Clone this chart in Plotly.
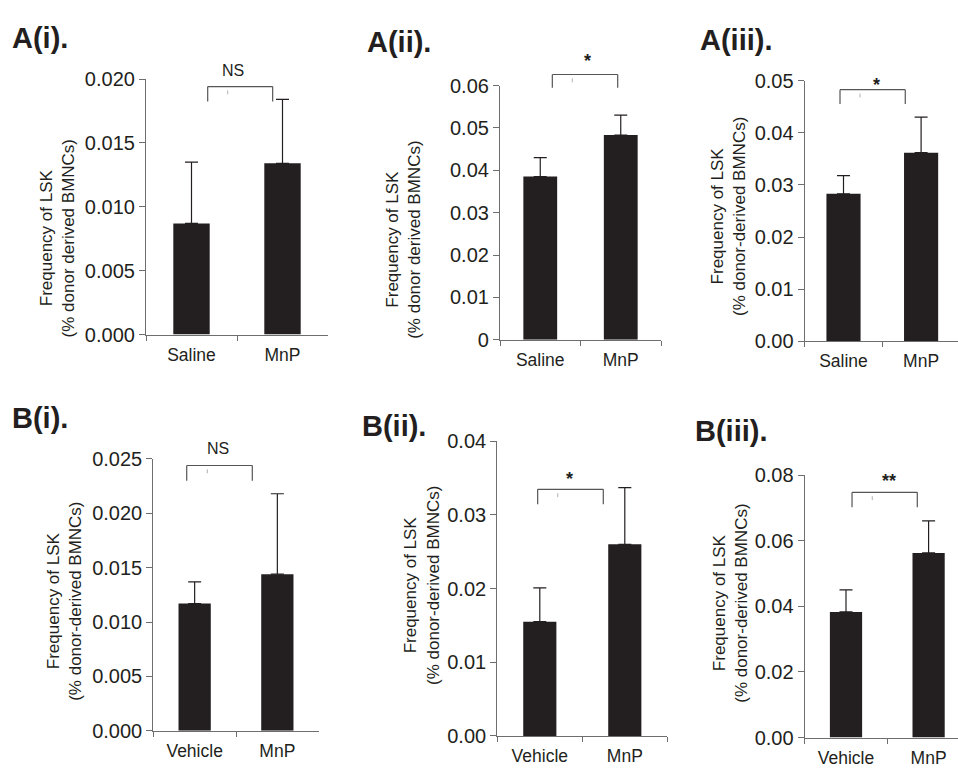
import plotly.graph_objects as go

W, H = 958, 778

# ---------------- data ----------------
groups_A = ["Saline", "MnP"]
groups_B = ["Vehicle", "MnP"]

a1_mean = [0.0087, 0.0134]
a1_err = [0.0048, 0.0050]
a2_mean = [0.0385, 0.0483]
a2_err = [0.0045, 0.0047]
a3_mean = [0.0283, 0.0362]
a3_err = [0.0035, 0.0068]
b1_mean = [0.0117, 0.0144]
b1_err = [0.0020, 0.0074]
b2_mean = [0.0155, 0.0260]
b2_err = [0.0046, 0.0077]
b3_mean = [0.0383, 0.0563]
b3_err = [0.0067, 0.0098]

panel_titles = ["A(i).", "A(ii).", "A(iii).", "B(i).", "B(ii).", "B(iii)."]
sig_labels = ["NS", "*", "*", "NS", "*", "**"]
y_max = [0.020, 0.06, 0.05, 0.025, 0.04, 0.08]
y_dtick = [0.005, 0.01, 0.01, 0.005, 0.01, 0.02]
y_format = [".3f", "", ".2f", ".3f", ".2f", ".2f"]
y_titles = [
    "Frequency of LSK<br>(% donor derived BMNCs)",
    "Frequency of LSK<br>(% donor derived BMNCs)",
    "Frequency of LSK<br>(% donor-derived BMNCs)",
    "Frequency of LSK<br>(% donor-derived BMNCs)",
    "Frequency of LSK<br>(% donor-derived BMNCs)",
    "Frequency of LSK<br>(% donor-derived BMNCs)",
]
# significance bracket: x ends (category units), top y, leg bottom y (data units)
br_x0 = [0.178, 0.150, -0.045, -0.096, -0.025, 0.073]
br_x1 = [0.892, 0.962, 0.796, 0.697, 0.747, 0.863]
br_top = [0.01941, 0.0626, 0.04827, 0.0244, 0.03346, 0.07479]
br_leg = [0.01825, 0.0595, 0.04553, 0.0230, 0.03143, 0.07022]
sig_x = [0.456, 0.589, 0.419, 0.279, 0.355, 0.524]
sig_y = [0.02068, 0.0657, 0.0492, 0.02598, 0.03488, 0.0783]
stub_x = [0.398, 0.398, 0.213, 0.153, 0.211, 0.318]

panels = [
    (groups_A, a1_mean, a1_err),
    (groups_A, a2_mean, a2_err),
    (groups_A, a3_mean, a3_err),
    (groups_B, b1_mean, b1_err),
    (groups_B, b2_mean, b2_err),
    (groups_B, b3_mean, b3_err),
]

# ---------------- layout geometry (pixels) ----------------
geom = [
    dict(xl=146.0, xr=328.0, cw=91.0, yt=70.0, yb=333.0, bw=0.40),
    dict(xl=500.0, xr=661.0, cw=80.5, yt=76.7, yb=338.3, bw=0.42),
    dict(xl=804.7, xr=958.0, cw=77.6, yt=71.7, yb=340.0, bw=0.44),
    dict(xl=153.3, xr=318.7, cw=82.7, yt=461.0, yb=740.7, bw=0.39),
    dict(xl=497.3, xr=667.3, cw=85.0, yt=442.7, yb=746.0, bw=0.39),
    dict(xl=804.7, xr=958.0, cw=82.6, yt=477.7, yb=747.7, bw=0.39),
]
ytitle_pos = [(57, 234), (403.5, 236), (728, 212), (65, 608), (421.7, 591), (731, 610)]
title_pos = [(10, 28), (365, 32), (698, 30), (10, 419), (360, 427), (693, 432)]

BAR = "#231f20"
AX = "#6e6e6e"
TXT = "#231f20"
FONT = "Liberation Sans, Arial, sans-serif"


def px_x(p):
    return p / W


def px_y(p):
    return 1 - p / H


def cat_to_paper(g, c):
    return px_x(g["xl"] + (c + 0.5) * g["cw"])


def val_to_paper(g, i, v):
    return px_y(g["yb"] - v / y_max[i] * (g["yb"] - g["yt"]))


fig = go.Figure()
layout = dict(
    width=W, height=H, margin=dict(l=0, r=0, t=0, b=0, pad=0),
    paper_bgcolor="white", plot_bgcolor="white", showlegend=False,
    font=dict(family=FONT, color=TXT),
)
shapes = []
annotations = []

for i, ((cats, mean, err), g) in enumerate(zip(panels, geom)):
    n = i + 1
    xa = "x" if n == 1 else f"x{n}"
    ya = "y" if n == 1 else f"y{n}"
    fig.add_trace(go.Bar(
        x=cats, y=mean, width=g["bw"], xaxis=xa, yaxis=ya,
        marker=dict(color=BAR, line=dict(width=0)),
        error_y=dict(type="data", symmetric=False, array=err,
                     arrayminus=[0] * len(err), color=BAR,
                     thickness=1.2, width=6.5),
        hoverinfo="skip",
    ))
    x_end = -0.5 + (g["xr"] - g["xl"]) / g["cw"]
    layout["xaxis" if n == 1 else f"xaxis{n}"] = dict(
        domain=[px_x(g["xl"]), px_x(g["xr"])], anchor=ya,
        type="category", range=[-0.5, x_end],
        showline=True, linecolor=AX, linewidth=1.2,
        ticks="outside", tickson="boundaries", ticklen=5, tickcolor=AX,
        tickwidth=1.2, showgrid=False, zeroline=False,
        tickfont=dict(size=17.5, family=FONT, color=TXT),
        ticklabelstandoff=4, fixedrange=True,
    )
    layout["yaxis" if n == 1 else f"yaxis{n}"] = dict(
        domain=[px_y(g["yb"]), px_y(g["yt"])], anchor=xa,
        range=[0, y_max[i]], tick0=0, dtick=y_dtick[i],
        tickformat=y_format[i],
        showline=True, linecolor=AX, linewidth=1.2,
        ticks="outside", ticklen=6, tickcolor=AX, tickwidth=1.2,
        showgrid=False, zeroline=False,
        tickfont=dict(size=20, family=FONT, color=TXT),
        fixedrange=True,
    )
    # significance bracket (mapped through the panel's scales to paper coords)
    bx0 = cat_to_paper(g, br_x0[i])
    bx1 = cat_to_paper(g, br_x1[i])
    bt = val_to_paper(g, i, br_top[i])
    bl = val_to_paper(g, i, br_leg[i])
    for (x0, y0, x1, y1) in [(bx0, bt, bx1, bt), (bx0, bl, bx0, bt), (bx1, bl, bx1, bt)]:
        shapes.append(dict(type="line", xref="paper", yref="paper", x0=x0, y0=y0,
                           x1=x1, y1=y1, line=dict(color="#555555", width=1.2)))
    sx = cat_to_paper(g, stub_x[i])
    shapes.append(dict(type="line", xref="paper", yref="paper", x0=sx, x1=sx,
                       y0=bt - 4 / H, y1=bt - 8 / H,
                       line=dict(color="#b0b0b0", width=1)))
    is_ns = sig_labels[i] == "NS"
    annotations.append(dict(
        xref="paper", yref="paper", x=cat_to_paper(g, sig_x[i]),
        y=val_to_paper(g, i, sig_y[i]),
        text=sig_labels[i] if is_ns else f"<b>{sig_labels[i]}</b>",
        showarrow=False, xanchor="center", yanchor="middle",
        font=dict(size=16 if is_ns else 18, family=FONT, color=TXT),
    ))
    # y title
    tx, ty = ytitle_pos[i]
    annotations.append(dict(
        xref="paper", yref="paper", x=px_x(tx), y=px_y(ty), text=y_titles[i],
        showarrow=False, textangle=-90, xanchor="center", yanchor="middle",
        font=dict(size=17, family=FONT, color=TXT),
    ))
    # panel title
    px_, py_ = title_pos[i]
    annotations.append(dict(
        xref="paper", yref="paper", x=px_x(px_), y=px_y(py_),
        text=f"<b>{panel_titles[i]}</b>", showarrow=False,
        xanchor="left", yanchor="middle",
        font=dict(size=29, family=FONT, color=TXT),
    ))

layout["shapes"] = shapes
layout["annotations"] = annotations
fig.update_layout(**layout)
fig.write_html(
    "out.html",
    config={"displayModeBar": False},
    post_script="document.body.style.margin='0';document.body.style.overflow='hidden';",
)
